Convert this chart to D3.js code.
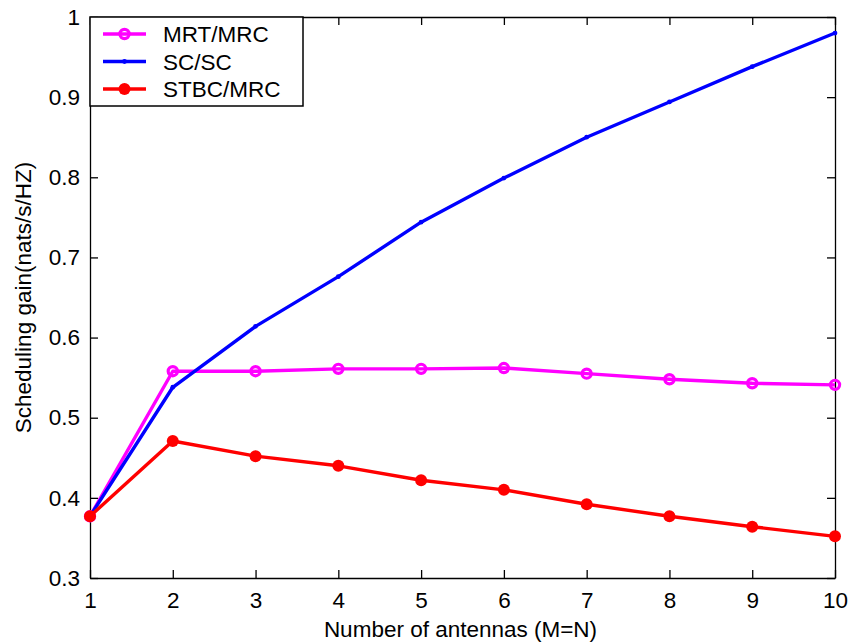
<!DOCTYPE html>
<html>
<head>
<meta charset="utf-8">
<script src="https://cdn.jsdelivr.net/npm/d3@7"></script>
<style>
    body { margin: 0; background: #fff; }
    text { font-family: "Liberation Sans", Arial, sans-serif; fill: #000; }
</style>
</head>
<body>
<div id="chart"></div>
<script>
//Chart data
var antennas = [1, 2, 3, 4, 5, 6, 7, 8, 9, 10];
var mrtMrc = [0.377, 0.558, 0.558, 0.561, 0.561, 0.562, 0.555, 0.548, 0.543, 0.541];
var scSc = [0.377, 0.538, 0.614, 0.676, 0.744, 0.799, 0.850, 0.894, 0.938, 0.980];
var stbcMrc = [0.377, 0.471, 0.452, 0.440, 0.422, 0.410, 0.392, 0.377, 0.364, 0.352];
var xTicks = [1, 2, 3, 4, 5, 6, 7, 8, 9, 10];
var yTicks = [0.3, 0.4, 0.5, 0.6, 0.7, 0.8, 0.9, 1];
var seriesNames = ["MRT/MRC", "SC/SC", "STBC/MRC"];

var series = [
    {name: seriesNames[0], values: mrtMrc, color: "#ff00ff", marker: "ring"},
    {name: seriesNames[1], values: scSc, color: "#0000ff", marker: "dot"},
    {name: seriesNames[2], values: stbcMrc, color: "#ff0000", marker: "fill"}
];

//Chart dimensions (in pixels)
var width = 848,
    height = 643,
    margin = {top: 17, right: 13, bottom: 65, left: 90},
    innerW = width - margin.left - margin.right,
    innerH = height - margin.top - margin.bottom;

var svg = d3.select("#chart").append("svg")
    .attr("width", width)
    .attr("height", height);

var g = svg.append("g")
    .attr("transform", "translate(" + margin.left + "," + margin.top + ")");

var x = d3.scaleLinear().domain([1, 10]).range([0, innerW]);
var y = d3.scaleLinear().domain([0.3, 1]).range([innerH, 0]);

var tickLen = 8;

//Axes with inward ticks (box on)
g.append("g")
    .attr("transform", "translate(0," + innerH + ")")
    .call(d3.axisBottom(x).tickValues(xTicks).tickSizeInner(-tickLen).tickSizeOuter(0).tickPadding(14).tickFormat(d3.format("d")));

g.append("g")
    .call(d3.axisTop(x).tickValues(xTicks).tickSizeInner(-tickLen).tickSizeOuter(0).tickFormat(""));

g.append("g")
    .call(d3.axisLeft(y).tickValues(yTicks).tickSizeInner(-tickLen).tickSizeOuter(0).tickPadding(10).tickFormat(function(d) { return d === 1 ? "1" : d3.format(".1f")(d); }));

g.append("g")
    .attr("transform", "translate(" + innerW + ",0)")
    .call(d3.axisRight(y).tickValues(yTicks).tickSizeInner(-tickLen).tickSizeOuter(0).tickFormat(""));

g.selectAll(".domain").attr("stroke", "#000").attr("stroke-width", 1.3);
g.selectAll(".tick line").attr("stroke", "#000").attr("stroke-width", 1.3);
g.selectAll(".tick text")
    .style("font-size", "22.5px")
    .style("font-family", "'Liberation Sans', Arial, sans-serif")
    .attr("fill", "#000");

//Lines
var line = d3.line()
    .x(function(d, i) { return x(antennas[i]); })
    .y(function(d) { return y(d); });

function drawMarker(sel, s, cx, cy) {
    if (s.marker === "ring") {
        sel.append("circle").attr("cx", cx).attr("cy", cy).attr("r", 4.6)
            .attr("fill", "none").attr("stroke", s.color).attr("stroke-width", 3.2);
    } else if (s.marker === "dot") {
        sel.append("circle").attr("cx", cx).attr("cy", cy).attr("r", 2.4)
            .attr("fill", s.color);
    } else {
        sel.append("circle").attr("cx", cx).attr("cy", cy).attr("r", 6)
            .attr("fill", s.color);
    }
}

series.forEach(function(s) {
    var sg = g.append("g");
    sg.append("path")
        .datum(s.values)
        .attr("d", line)
        .attr("fill", "none")
        .attr("stroke", s.color)
        .attr("stroke-width", 3.4)
        .attr("stroke-linejoin", "round");
    s.values.forEach(function(v, i) {
        drawMarker(sg, s, x(antennas[i]), y(v));
    });
});

//Legend
var legend = g.append("g");
legend.append("rect")
    .attr("x", 0).attr("y", 0)
    .attr("width", 213).attr("height", 89)
    .attr("fill", "#fff")
    .attr("stroke", "#000")
    .attr("stroke-width", 1.5);

series.forEach(function(s, i) {
    var ly = 17 + i * 27.5;
    legend.append("line")
        .attr("x1", 13).attr("x2", 56)
        .attr("y1", ly).attr("y2", ly)
        .attr("stroke", s.color)
        .attr("stroke-width", 3.4);
    drawMarker(legend, s, 34.5, ly);
    legend.append("text")
        .attr("x", 73).attr("y", ly + 8)
        .style("font-size", "22.5px")
        .text(s.name);
});

//Axis labels
svg.append("text")
    .attr("x", margin.left + innerW / 2 - 2)
    .attr("y", 637)
    .attr("text-anchor", "middle")
    .style("font-size", "22.5px")
    .text("Number of antennas (M=N)");

svg.append("text")
    .attr("transform", "translate(31," + (margin.top + innerH / 2) + ") rotate(-90)")
    .attr("text-anchor", "middle")
    .style("font-size", "22.5px")
    .text("Scheduling gain(nats/s/HZ)");
</script>
</body>
</html>
